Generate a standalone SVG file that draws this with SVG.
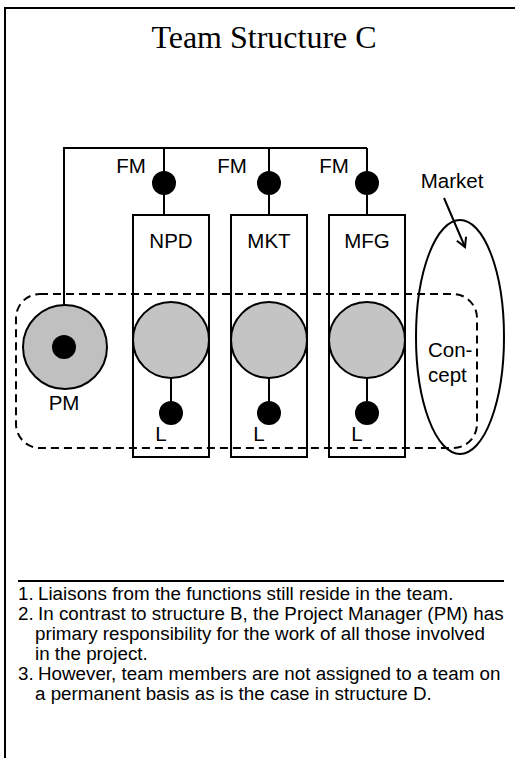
<svg xmlns="http://www.w3.org/2000/svg" width="515" height="758" viewBox="0 0 515 758">
  <style>
    .ln { fill: none; stroke: #000; stroke-width: 2; }
    .dot { fill: #000; }
    .fn { fill: #c4c4c4; stroke: #000; stroke-width: 2; }
    .pm { fill: #c0c0c0; stroke: #000; stroke-width: 2; }
    .lbl { font-family: "Liberation Sans", Arial, sans-serif; font-size: 20.5px; fill: #000; }
    .note { font-family: "Liberation Sans", Arial, sans-serif; font-size: 18.8px; fill: #000; }
    .title { font-family: "Liberation Serif", "Times New Roman", serif; font-size: 32px; fill: #000; }
  </style>
  <defs>
    <marker id="open" markerWidth="12" markerHeight="12" refX="10" refY="6" orient="auto" markerUnits="userSpaceOnUse">
      <path d="M1,1 L10,6 L1,11" fill="none" stroke="#000" stroke-width="2"/>
    </marker>
  </defs>

  <rect width="515" height="758" fill="#fff"/>
  <!-- page frame (open on right and bottom) -->
  <path class="ln" d="M5,770 L5,8 L530,8"/>

  <text class="title" x="264" y="48" text-anchor="middle">Team Structure C</text>

  <!-- team boundary -->
  <rect id="team" x="16" y="294" width="461" height="154" rx="24" ry="24" fill="none" stroke="#000" stroke-width="2" stroke-dasharray="8,5"/>

  <!-- connectors -->
  <g id="connectors">
    <path class="ln" d="M64,347 L64,148 L367,148"/>
    <path class="ln" d="M164,148 L164,215"/>
    <path class="ln" d="M269,148 L269,215"/>
    <path class="ln" d="M367,148 L367,215"/>
    <path class="ln" d="M171,377 L171,413"/>
    <path class="ln" d="M269,377 L269,413"/>
    <path class="ln" d="M367,377 L367,413"/>
    <path class="ln" d="M444,198 L465,247" marker-end="url(#open)"/>
  </g>

  <!-- functional managers -->
  <g id="fm-npd">
    <circle class="dot" cx="164" cy="183" r="12"/>
    <text class="lbl" x="131" y="173" text-anchor="middle">FM</text>
  </g>
  <g id="fm-mkt">
    <circle class="dot" cx="269" cy="183" r="12"/>
    <text class="lbl" x="232" y="173" text-anchor="middle">FM</text>
  </g>
  <g id="fm-mfg">
    <circle class="dot" cx="367" cy="183" r="12"/>
    <text class="lbl" x="334" y="173" text-anchor="middle">FM</text>
  </g>

  <!-- functions -->
  <g id="npd">
    <rect class="ln" x="133" y="215" width="76" height="242"/>
    <text class="lbl" x="171" y="248" text-anchor="middle">NPD</text>
    <circle class="fn" cx="171" cy="340" r="38"/>
    <circle class="dot" cx="171" cy="413" r="12"/>
    <text class="lbl" x="161" y="441" text-anchor="middle">L</text>
  </g>
  <g id="mkt">
    <rect class="ln" x="231" y="215" width="76" height="242"/>
    <text class="lbl" x="269" y="248" text-anchor="middle">MKT</text>
    <circle class="fn" cx="269" cy="340" r="38"/>
    <circle class="dot" cx="269" cy="413" r="12"/>
    <text class="lbl" x="259" y="441" text-anchor="middle">L</text>
  </g>
  <g id="mfg">
    <rect class="ln" x="329" y="215" width="76" height="242"/>
    <text class="lbl" x="367" y="248" text-anchor="middle">MFG</text>
    <circle class="fn" cx="367" cy="340" r="38"/>
    <circle class="dot" cx="367" cy="413" r="12"/>
    <text class="lbl" x="357" y="441" text-anchor="middle">L</text>
  </g>

  <!-- project manager -->
  <g id="pm">
    <circle class="pm" cx="65" cy="347" r="42"/>
    <circle class="dot" cx="64" cy="347" r="12"/>
    <text class="lbl" x="64" y="410" text-anchor="middle">PM</text>
  </g>

  <!-- market -->
  <g id="market">
    <ellipse class="ln" cx="460" cy="337" rx="44" ry="117"/>
    <text class="lbl" x="452" y="188" text-anchor="middle">Market</text>
    <text class="lbl" x="428" y="357">Con-</text>
    <text class="lbl" x="428" y="382">cept</text>
  </g>

  <!-- notes -->
  <g id="notes">
    <path class="ln" d="M18,581 L504,581"/>
    <text class="note" x="18" y="600">1.</text>
    <text class="note" x="38" y="600">Liaisons from the functions still reside in the team.</text>
    <text class="note" x="18" y="620">2.</text>
    <text class="note" x="38" y="620">In contrast to structure B, the Project Manager (PM) has</text>
    <text class="note" x="35" y="640">primary responsibility for the work of all those involved</text>
    <text class="note" x="35" y="660">in the project.</text>
    <text class="note" x="18" y="680">3.</text>
    <text class="note" x="38" y="680">However, team members are not assigned to a team on</text>
    <text class="note" x="35" y="700">a permanent basis as is the case in structure D.</text>
  </g>
</svg>
